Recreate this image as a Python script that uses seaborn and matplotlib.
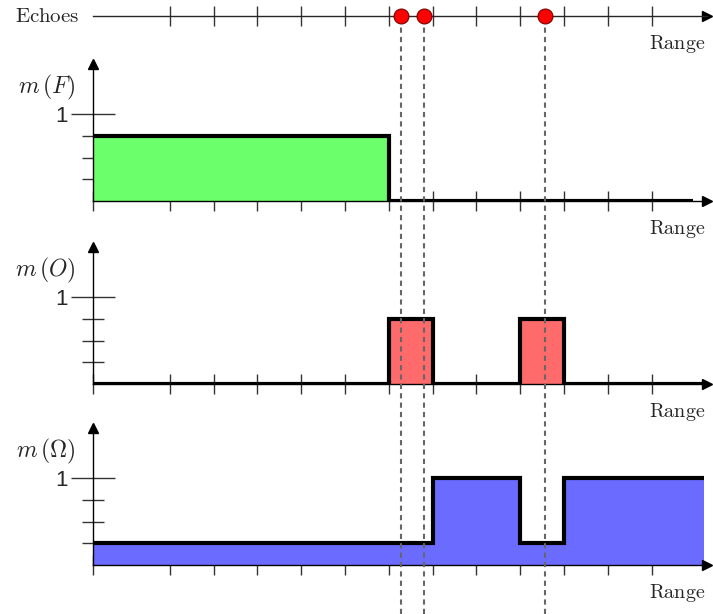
import matplotlib
matplotlib.use("Agg")
import matplotlib.pyplot as plt
import numpy as np
import seaborn as sns

# range axis: tick positions and the origin of every panel
x_origin = -0.75
range_ticks = list(range(1, 13))

# echo positions along the range axis
echo_x = [6.28, 6.8, 9.56]

# mass functions (step values start at each breakpoint)
f_x = [x_origin, 6, 12.94]
f_y = [0.75, 0, 0]
o_x = [x_origin, 6, 7, 9, 10, 13.2]
o_y = [0, 0.75, 0, 0.75, 0, 0]
w_x = [x_origin, 7, 9, 10, 13.2]
w_y = [0.25, 1, 0.25, 1, 1]

y_labels = [r"$m\,(F)$", r"$m\,(O)$", r"$m\,(\Omega)$"]
fill_colors = ["#6bff6b", "#ff6b6b", "#6b6bff"]
m_ticks = [0.25, 0.5, 0.75]

sns.set_style("white")
plt.rcParams["mathtext.fontset"] = "cm"
plt.rcParams["font.family"] = ["Liberation Sans", "DejaVu Sans"]

W, H = 713, 614
fig = plt.figure(figsize=(W / 100, H / 100), dpi=100)

left = 93 / W
width = (707 - 93) / W
x_max = 13.26
unit = 87  # pixels per mass unit
y_top = 1.57


def range_label(ax, dy):
    ax.annotate(r"$\mathrm{Range}$", xy=(1, 0), xycoords="axes fraction",
                xytext=(-1, dy), textcoords="offset points",
                ha="right", va="top", fontsize=14.5)


# echoes axis
ax_e = fig.add_axes([left, (H - 16) / H - 0.03, width, 0.06])
ax_e.patch.set_alpha(0)
ax_e.set_xlim(x_origin, x_max)
ax_e.set_ylim(-1, 1)
sns.scatterplot(x=echo_x, y=[0] * len(echo_x), ax=ax_e, s=115, color="red",
                edgecolor="#7a0000", linewidth=0.8, zorder=5, clip_on=False)
for s in ["top", "right", "left"]:
    ax_e.spines[s].set_visible(False)
ax_e.spines["bottom"].set_position(("data", 0))
ax_e.spines["bottom"].set_linewidth(1)
ax_e.set_xticks(range_ticks)
ax_e.set_xticklabels([])
ax_e.set_yticks([])
ax_e.tick_params(axis="x", direction="inout", length=15, width=1, color="#333333", bottom=True)
ax_e.plot([1], [0.5], ">", color="black", ms=7, transform=ax_e.transAxes, clip_on=False)
ax_e.annotate(r"$\mathrm{Echoes}$", xy=(0, 0.5), xycoords="axes fraction",
              xytext=(-10, 0), textcoords="offset points",
              ha="right", va="center", fontsize=15)
ax_e.annotate(r"$\mathrm{Range}$", xy=(1, 0.5), xycoords="axes fraction",
              xytext=(-1, -12), textcoords="offset points",
              ha="right", va="top", fontsize=14.5)

panels = [(f_x, f_y, 201), (o_x, o_y, 384), (w_x, w_y, 565)]
for i, (xs, ys, base) in enumerate(panels):
    ax = fig.add_axes([left, (H - base) / H, width, y_top * unit / H])
    ax.patch.set_alpha(0)
    ax.set_xlim(x_origin, x_max)
    ax.set_ylim(0, y_top)
    ax.fill_between(xs, ys, step="post", color=fill_colors[i], linewidth=0, zorder=1)
    sns.lineplot(x=xs, y=ys, ax=ax, drawstyle="steps-post", color="black",
                 linewidth=3, zorder=3, solid_joinstyle="miter", solid_capstyle="butt")
    for s in ["top", "right"]:
        ax.spines[s].set_visible(False)
    for s in ["left", "bottom"]:
        ax.spines[s].set_linewidth(1)
        ax.spines[s].set_color("black")
    ax.set_xticks([x_origin] + range_ticks)
    ax.set_xticklabels([])
    ax.set_yticks([1])
    ax.set_yticklabels(["1"], fontsize=16)
    ax.set_yticks(m_ticks, minor=True)
    ax.tick_params(axis="x", direction="inout", length=15, width=1, color="#333333", bottom=True)
    ax.tick_params(axis="y", which="major", direction="inout", length=31, width=1,
                   color="#333333", left=True, pad=3)
    ax.tick_params(axis="y", which="minor", direction="inout", length=16, width=1,
                   color="#333333", left=True)
    ax.set_xlabel("")
    ax.set_ylabel("")
    ax.plot([1], [0], ">", color="black", ms=7, transform=ax.transAxes, clip_on=False)
    ax.plot([0], [1], "^", color="black", ms=7, transform=ax.transAxes, clip_on=False)
    ax.annotate(y_labels[i], xy=(0, 1.3), xycoords=("axes fraction", "data"),
                xytext=(-13, 0), textcoords="offset points",
                ha="right", va="center", fontsize=17)
    range_label(ax, -12)

# dashed guides from the echoes down through all panels
ax_g = fig.add_axes([left, 0, width, (H - 24) / H])
ax_g.set_xlim(x_origin, x_max)
ax_g.set_ylim(0, 1)
ax_g.vlines(echo_x, 0, 1, colors="#666666", linewidth=1.5, linestyles=(0, (2.5, 2)))
ax_g.axis("off")
ax_g.patch.set_alpha(0)

fig.savefig("out.png", dpi=100)
